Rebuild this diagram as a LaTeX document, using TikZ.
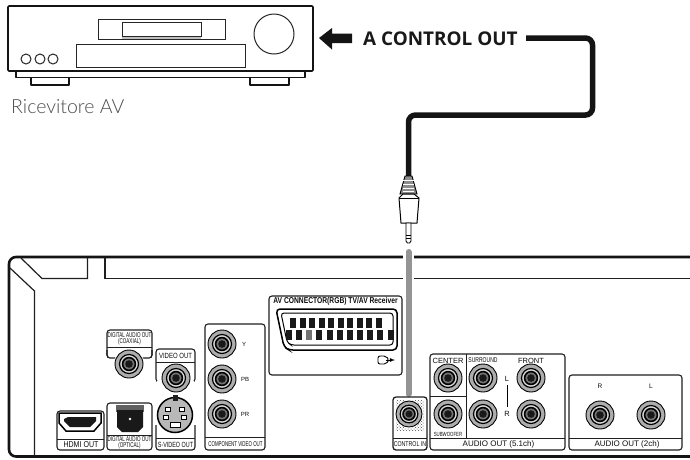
\documentclass[tikz,border=0pt]{standalone}
\usepackage{fontspec}
\usepackage{graphicx}
\usetikzlibrary{calc,patterns}
\setmainfont{Liberation Sans}
\newfontfamily\labelfont{Open Sans}
\newfontfamily\lightfont{Lato Light}
\newcommand{\nrw}[2][.62]{\scalebox{#1}[1]{#2}}
\tikzset{
  unit/.style={line width=1.7pt,draw=black!92,line join=round},
  thin unit/.style={line width=1pt,draw=black!85},
  panel/.style={line width=1.1pt,draw=black!88,rounded corners=3pt,fill=white},
  rule/.style={line width=1pt,draw=black!88},
  lab/.style={font=\fontsize{7.5}{8}\selectfont,text=black!95,inner sep=0pt,align=center},
  jack/.pic={
    \fill[white] (0,0) circle (15.2);
    \draw[line width=.9pt,fill=black!32] (0,0) circle (14);
    \draw[line width=1.2pt,fill=black!15] (0,0) circle (9.5);
    \draw[line width=1.6pt,fill=black!55] (0,0) circle (6.4);
    \fill[black!90] (0,0) circle (3.8);
  }
}
\begin{document}
\begin{tikzpicture}[x=1pt,y=-1pt]
\useasboundingbox (0,0) rectangle (690,459);
% receiver
\draw[unit,fill=white] (31,78) -- (31,85) -- (69,85) -- (69,78);
\draw[unit,fill=white] (250,78) -- (250,85) -- (289,85) -- (289,78);
\draw[unit,fill=white] (16,71) -- (16,77.5) -- (305,77.5) -- (305,71);
\draw[unit,fill=white,rounded corners=1pt] (8,6) rectangle (313,71);
\draw[thin unit] (98,19) rectangle (225,39);
\draw[thin unit] (122,22) rectangle (201,36);
\draw[line width=2pt,black!25] (122,38) -- (201,38);
\draw[thin unit] (76,44) rectangle (245,67);
\draw[thin unit] (274,34) circle (20);
\foreach \x in {26,40,53} \draw[thin unit] (\x,59) circle (5);
\node[anchor=base west,inner sep=0pt,text=black!70,font=\lightfont\fontsize{19.5}{20}\selectfont] (recv) at (11,113) {Ricevitore AV};
% arrow and label
\fill[black!92] (319,38) -- (332,28) -- (332,33.5) -- (352,33.5) -- (352,43) -- (332,43) -- (332,49.5) -- cycle;
\node[anchor=base west,inner sep=0pt,font=\labelfont\bfseries\fontsize{18.9}{20}\selectfont,text=black!90] (out) at (363,45) {A CONTROL OUT};
% cable
\coordinate (c1) at (526,38);
\coordinate (c2) at (592.5,38);
\coordinate (c3) at (592.5,115);
\coordinate (c4) at (408.5,115);
\coordinate (c5) at (408.5,177);
\draw[line width=5.5pt,black!92,rounded corners=7pt] (c1) -- (c2) -- (c3) -- (c4) -- (c5);
% plug
\draw[line width=.9pt,fill=black!45] (405,176) -- (412,176) -- (417,194) -- (400,194) -- cycle;
\foreach \y in {180,184,188,191} \draw[white,line width=.7pt] (403,\y) -- (414,\y);
\draw[line width=1pt,fill=white] (399,198) -- (403,194) -- (414,194) -- (419,198) -- (417,223) -- (401,223) -- cycle;
\draw[line width=.9pt] (399,198) -- (419,198);
\draw[line width=.9pt,fill=white] (406,223) -- (411,223) -- (411,241) -- (409.5,243) -- (407.5,243) -- (406,241) -- cycle;
\draw[line width=.8pt] (406,235) -- (411,235) (406,238) -- (411,238);
% back panel
\draw[line width=2.6pt,black!92,rounded corners=7pt] (690,257) -- (9,257) -- (9,456.5) -- (690,456.5);
\draw[line width=1.2pt,black!88] (21,258) -- (42,278.5) -- (87.5,278.5) -- (87.5,258);
\draw[line width=1.2pt,black!88] (105,258) -- (105,278.5) -- (690,278.5);
\draw[line width=1.2pt,black!88] (10,268) -- (34.5,291) -- (34.5,456);
% gray plug guide
\fill[white] (403,250) rectangle (414,285);
\draw[line width=6pt,black!42,line cap=round] (408.5,252) -- (408.5,394);
% HDMI
\draw[panel] (57,411) rectangle (104,450);
\draw[rule] (57,439) -- (104,439);
\draw[line width=1.5pt,fill=white] (59,413) -- (101,413) -- (101,423) -- (94,431) -- (66,431) -- (59,423) -- cycle;
\fill[black!90] (64,421) -- (64,419) -- (68,417) -- (96,417) -- (96,421) -- (90,427) -- (70,427) -- cycle;
\node[lab,font=\fontsize{8.5}{9}\selectfont] (hdmi) at (81,445) {\nrw[.83]{HDMI OUT}};
% Optical
\draw[panel] (107,403) rectangle (152,450);
\draw[rule] (107,435) -- (152,435);
\fill[black!62] (116,405) rectangle (144,412);
\fill[black!90] (117,410) -- (143,410) -- (143,427) -- (138,432) -- (122,432) -- (117,427) -- cycle;
\fill[white] (130,419) circle (1.4);
\node[lab,font=\fontsize{7}{7.5}\selectfont] (opt) at (129.5,442.5) {\nrw[.65]{DIGITAL AUDIO OUT}\\[-1.5pt]\nrw[.65]{(OPTICAL)}};
% Coaxial
\draw[panel] (107,358) -- (107,330) -- (152,330) -- (152,358) -- cycle;
\fill[white] (108,357) rectangle (151,360);
\draw[line width=1.1pt,black!88,rounded corners=3pt] (107,350) -- (107,358) -- (118,358);
\draw[line width=1.1pt,black!88,rounded corners=3pt] (152,350) -- (152,358) -- (141,358);
\draw[rule] (107,347) -- (152,347);
\node[lab,font=\fontsize{7}{7.5}\selectfont] (coax) at (129.5,338.5) {\nrw[.65]{DIGITAL AUDIO OUT}\\[-1.5pt]\nrw[.65]{(COAXIAL)}};
\pic at (129,364) {jack};
% Video
\draw[panel] (156,382) -- (156,349) -- (195,349) -- (195,382) -- cycle;
\fill[white] (157,381) rectangle (194,384);
\draw[rule] (156,362) -- (195,362);
\node[lab,font=\fontsize{7.5}{8}\selectfont] (vid) at (175.5,355.5) {\nrw[.8]{VIDEO OUT}};
\pic at (176,378) {jack};
% S-Video
\draw[panel] (156,425) -- (156,450) -- (195,450) -- (195,425);
\draw[rule] (156,438) -- (195,438);
\node[lab,font=\fontsize{7.5}{8}\selectfont] (svid) at (175.5,444.5) {\nrw[.72]{S-VIDEO OUT}};
\fill[white] (175,415) circle (19);
\draw[line width=1.5pt,fill=black!28] (175,415) circle (17.5);
\fill[black!88] (172.5,395) rectangle (177.5,401);
\foreach \p in {(168,409),(182,409),(166,417),(184,417)} \draw[line width=.8pt,fill=white] \p ++(-2.5,-2) rectangle ++(5,4);
\draw[line width=.8pt,fill=white] (170,422) rectangle (180,427);
% Component
\draw[panel] (205,324) rectangle (265,450);
\draw[rule] (205,437) -- (265,437);
\node[lab,font=\fontsize{7}{7.5}\selectfont] (comp) at (235.5,444) {\nrw[.63]{COMPONENT VIDEO OUT}};
\foreach \y in {344,379,414} \pic at (222,\y) {jack};
\node[lab,font=\fontsize{6}{7}\selectfont] (cy) at (244,344) {Y};
\node[lab,font=\fontsize{6}{7}\selectfont] (cb) at (245,379.5) {PB};
\node[lab,font=\fontsize{6}{7}\selectfont] (cr) at (245,414.5) {PR};
% AV connector
\draw[panel] (269,296) rectangle (402,375);
\node[lab,font=\bfseries\fontsize{8.5}{9}\selectfont] (av) at (335.5,301) {\nrw[.79]{AV CONNECTOR(RGB) TV/AV Receiver}};
\draw[line width=1.5pt,rounded corners=4pt] (276,309) -- (397,309) -- (397,350) -- (289,350) -- (284,347) -- cycle;
\draw[line width=1pt,rounded corners=3pt] (281,313) -- (393,313) -- (393,345) -- (291,345) -- (287,342) -- cycle;
\foreach \i in {0,...,9} \fill[black!90] ({290+\i*9.55},318) rectangle ++(6,10);
\foreach \i in {0,...,10} \fill[black!90] ({286+\i*10.15},330) rectangle ++(6,10);
\fill[black!55] (306,330) rectangle ++(6,10);
\draw[line width=.9pt,rounded corners=2pt] (378,356) -- (378,364) -- (386,364) -- (389,360) -- (386,356) -- cycle;
\draw[line width=.8pt,-latex] (386,360) -- (395,360);
% Control in
\draw[panel,line width=1.3pt] (393,397) rectangle (427,450);
\draw[rule] (393,438) -- (427,438);
\fill[pattern=crosshatch dots,pattern color=black!70] (396,400) rectangle (424,430);
\pic[scale=.93] at (409,414) {jack};
\node[lab,font=\fontsize{7}{8}\selectfont] (ctl) at (410,444.5) {\nrw[.75]{CONTROL IN}};
% Audio 5.1
\draw[panel] (430,354) rectangle (565,450);
\draw[rule] (430,438) -- (565,438);
\draw[rule] (466,354) -- (466,438);
\draw[rule] (430,396) -- (466,396);
\foreach \p in {(448,378),(448,414),(483,378),(483,414),(531,378),(531,414)} \pic at \p {jack};
\node[lab] (center) at (448,360.5) {CENTER};
\node[lab,font=\fontsize{7}{8}\selectfont] (surr) at (483,360.5) {\nrw[.72]{SURROUND}};
\node[lab] (front) at (531,360.5) {FRONT};
\node[lab,font=\fontsize{6}{7}\selectfont] (sub) at (448,434) {\nrw[.72]{SUBWOOFER}};
\node[lab] (lf) at (507,379) {L};
\node[lab] (rf) at (507,414) {R};
\draw[line width=1pt] ($(lf)+(0,6)$) -- ($(rf)+(0,-7)$);
\node[lab,font=\fontsize{8}{9}\selectfont] (a51) at (498.5,444.5) {AUDIO OUT (5.1ch)};
% Audio 2ch
\draw[panel] (569,375) rectangle (682,450);
\draw[rule] (569,438) -- (682,438);
\pic at (600,415) {jack};
\pic at (651,415) {jack};
\node[lab,font=\fontsize{6.5}{7}\selectfont] (r2) at (600,386.5) {R};
\node[lab,font=\fontsize{6.5}{7}\selectfont] (l2) at (651,386.5) {L};
\node[lab,font=\fontsize{8}{9}\selectfont] (a2) at (627,444.5) {AUDIO OUT (2ch)};
\end{tikzpicture}
\end{document}
